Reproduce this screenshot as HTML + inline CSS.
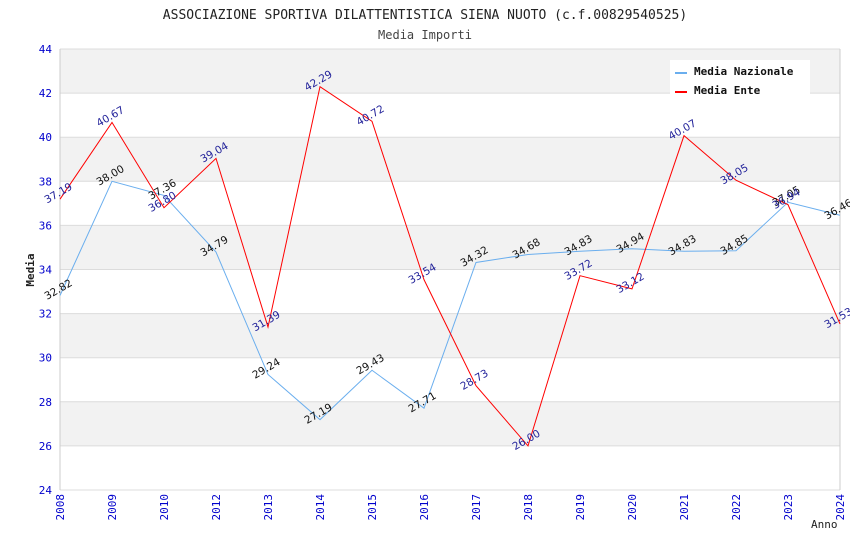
<!DOCTYPE html>
<html><head><meta charset="utf-8"><style>
body{margin:0;background:#fff}
text{font-family:"DejaVu Sans Mono","Liberation Mono",monospace}
text.v{font-family:"DejaVu Sans","Liberation Sans",sans-serif}
</style></head><body>
<svg id="c" width="850" height="550" xmlns="http://www.w3.org/2000/svg">
<text x="425" y="19" text-anchor="middle" font-size="13" fill="#222">ASSOCIAZIONE SPORTIVA DILATTENTISTICA SIENA NUOTO (c.f.00829540525)</text>
<text x="425" y="39" text-anchor="middle" font-size="12" fill="#444">Media Importi</text>
<g id="bands"></g><g id="grid"></g><g id="axes"></g><g id="lines"></g><g id="labels"></g>
<text transform="translate(34,270) rotate(-90)" text-anchor="middle" font-size="11" font-weight="bold" fill="#222">Media</text>
<text x="811" y="528" font-size="11" fill="#222">Anno</text>
<g>
<rect x="670" y="60" width="140" height="38" fill="#fff"/>
<line x1="675" y1="73" x2="687" y2="73" stroke="#6aaeee" stroke-width="2"/>
<text x="694" y="75" font-size="11" font-weight="bold" fill="#111">Media Nazionale</text>
<line x1="675" y1="92" x2="687" y2="92" stroke="#f00" stroke-width="2"/>
<text x="694" y="94" font-size="11" font-weight="bold" fill="#111">Media Ente</text>
</g>
</svg>
<script>
const years=["2008","2009","2010","2012","2013","2014","2015","2016","2017","2018","2019","2020","2021","2022","2023","2024"];
const nazionale=[32.82,38.00,37.36,34.79,29.24,27.19,29.43,27.71,34.32,34.68,34.83,34.94,34.83,34.85,37.05,36.46];
const ente=[37.19,40.67,36.80,39.04,31.39,42.29,40.72,33.54,28.73,26.00,33.72,33.12,40.07,38.05,36.94,31.53];
const yTicks=[24,26,28,30,32,34,36,38,40,42,44];
const NS="http://www.w3.org/2000/svg";
const L=60,R=840,T=49,B=490,yMin=24,yMax=44;
const xs=i=>L+i*(R-L)/(years.length-1);
const ys=v=>B-(v-yMin)/(yMax-yMin)*(B-T);
function mk(p,t,a){const e=document.createElementNS(NS,t);for(const k in a)e.setAttribute(k,a[k]);document.getElementById(p).appendChild(e);return e;}
for(let i=0;i<yTicks.length-1;i++){
  const y0=yTicks[i],y1=yTicks[i+1];
  const r=mk('bands','rect',{x:L,y:ys(y1),width:R-L,height:ys(y0)-ys(y1),fill:(i%2==1)?'#f2f2f2':'#fff'});
  
  
}
yTicks.forEach(v=>{
  const g=mk('grid','line',{x1:L,x2:R,y1:ys(v),y2:ys(v),stroke:'#dcdcdc'});
  
  
  const t=mk('axes','text',{x:L-8,y:ys(v)+4,'text-anchor':'end','font-size':11,fill:'#00c'});
  t.textContent=v;
  
  
});
mk('axes','line',{x1:L,x2:L,y1:T,y2:B,stroke:'#ccc'});
mk('axes','line',{x1:R,x2:R,y1:T,y2:B,stroke:'#ccc'});
years.forEach((y,i)=>{
  const t=mk('axes','text',{transform:`translate(${xs(i)+4},${B+4}) rotate(-90)`,'text-anchor':'end','font-size':11,fill:'#00c'});
  t.textContent=y;
  
  
});
function series(arr,color,lc,name){
  const p=mk('lines','polyline',{points:arr.map((v,i)=>xs(i)+','+ys(v)).join(' '),fill:'none',stroke:color,'stroke-width':1});
  
  
  arr.forEach((v,i)=>{
    const x=xs(i),y=ys(v);
    const t=mk('labels','text',{class:'v',transform:`translate(${x},${y-3}) rotate(-30)`,'text-anchor':'middle','font-size':10.5,fill:lc});
    t.textContent=v.toFixed(2);
    
    
  });
}
series(nazionale,'#6aaeee','#111','nazionale');
series(ente,'#f00','#22229a','ente');
</script>
</body></html>
